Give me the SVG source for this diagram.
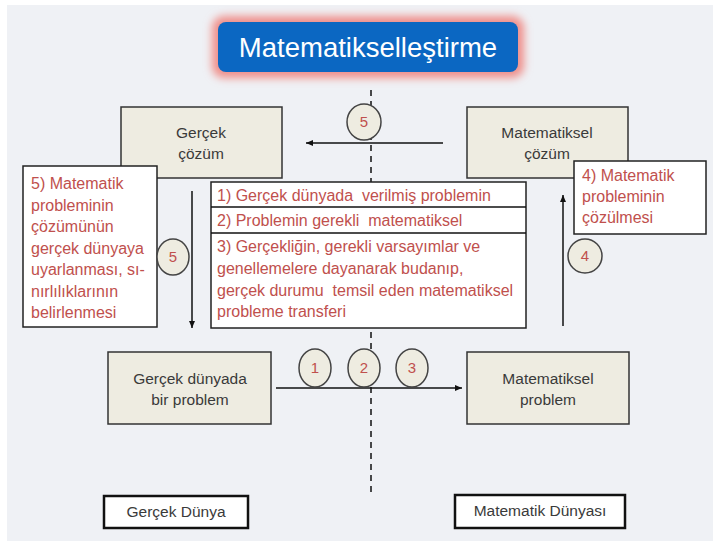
<svg xmlns="http://www.w3.org/2000/svg" width="713" height="541" viewBox="0 0 713 541">
<defs>
<style>
.box{fill:#eeece1;stroke:#333;stroke-width:1.5}
.tbox{fill:#fff;stroke:#222;stroke-width:1.5}
.lbl{fill:#fff;stroke:#111;stroke-width:2.5}
.t{font-family:"Liberation Sans",Arial,sans-serif;font-size:15.5px;fill:#3a3a3a;text-anchor:middle}
.r{font-family:"Liberation Sans",Arial,sans-serif;font-size:16px;fill:#c0504d;white-space:pre}
.circ{fill:#eeece1;stroke:#444;stroke-width:1.5}
.n{font-family:"Liberation Sans",Arial,sans-serif;font-size:15px;fill:#c0504d;text-anchor:middle}
.ln{stroke:#111;stroke-width:1.5;fill:none}
.dash{stroke:#111;stroke-width:1.5;stroke-dasharray:6,5;fill:none}
</style>
<marker id="ah" markerWidth="8" markerHeight="8" refX="7" refY="4" orient="auto" markerUnits="userSpaceOnUse">
<path d="M0,1 L7,4 L0,7 Z" fill="#111"/>
</marker>
<filter id="glow" x="-20%" y="-50%" width="140%" height="200%">
<feGaussianBlur stdDeviation="4"/>
</filter>
</defs>
<rect x="0" y="0" width="713" height="541" fill="#fff"/>
<rect x="7" y="5" width="706" height="536" fill="#eff1f5"/>

<g id="title">
<rect x="212" y="16" width="312" height="62" rx="12" fill="#ef8f8a" filter="url(#glow)"/>
<rect x="218" y="22" width="300" height="50" rx="8" fill="#0b67c2"/>
<text x="368" y="57" font-family="'Liberation Sans',Arial,sans-serif" font-size="27.5" fill="#fff" text-anchor="middle">Matematikselleştirme</text>
</g>

<g id="connectors">
<line class="dash" x1="371" y1="90" x2="371" y2="492"/>
<line class="ln" x1="443" y1="143" x2="306" y2="143" marker-end="url(#ah)"/>
<line class="ln" x1="192" y1="191" x2="192" y2="328" marker-end="url(#ah)"/>
<line class="ln" x1="563" y1="326" x2="563" y2="195" marker-end="url(#ah)"/>
<line class="ln" x1="276" y1="388" x2="462" y2="388" marker-end="url(#ah)"/>
</g>

<g id="n-gercek-cozum">
<rect class="box" x="121" y="107" width="161" height="71"/>
<text class="t" x="201" y="138">Gerçek</text>
<text class="t" x="201" y="159">çözüm</text>
</g>

<g id="n-mat-cozum">
<rect class="box" x="467" y="107" width="161" height="71"/>
<text class="t" x="547" y="138">Matematiksel</text>
<text class="t" x="547" y="159">çözüm</text>
</g>

<g id="n-gercek-problem">
<rect class="box" x="108" y="352" width="163" height="72"/>
<text class="t" x="190" y="384">Gerçek dünyada</text>
<text class="t" x="190" y="405">bir problem</text>
</g>

<g id="n-mat-problem">
<rect class="box" x="467" y="352" width="162" height="72"/>
<text class="t" x="548" y="384">Matematiksel</text>
<text class="t" x="548" y="405">problem</text>
</g>

<g id="c5-top">
<ellipse class="circ" cx="364" cy="122" rx="17" ry="18"/>
<text class="n" x="364" y="127">5</text>
</g>

<g id="n-step5">
<rect class="tbox" x="23" y="166" width="134" height="161"/>
<text class="r" x="31" y="189">5) Matematik</text>
<text class="r" x="31" y="211">probleminin</text>
<text class="r" x="31" y="232">çözümünün</text>
<text class="r" x="31" y="254">gerçek dünyaya</text>
<text class="r" x="31" y="275">uyarlanması, sı-</text>
<text class="r" x="31" y="297">nırlılıklarının</text>
<text class="r" x="31" y="318">belirlenmesi</text>
</g>

<g id="c5-left">
<ellipse class="circ" cx="173" cy="257" rx="16" ry="18"/>
<text class="n" x="173" y="262">5</text>
</g>

<g id="n-steps123">
<rect class="tbox" x="211" y="182" width="315" height="146"/>
<line class="ln" x1="211" y1="207" x2="526" y2="207"/>
<line class="ln" x1="211" y1="233" x2="526" y2="233"/>
<text class="r" x="217" y="201">1) Gerçek dünyada  verilmiş problemin</text>
<text class="r" x="217" y="226">2) Problemin gerekli  matematiksel</text>
<text class="r" x="217" y="252">3) Gerçekliğin, gerekli varsayımlar ve</text>
<text class="r" x="217" y="274">genellemelere dayanarak budanıp,</text>
<text class="r" x="217" y="296">gerçek durumu  temsil eden matematiksel</text>
<text class="r" x="217" y="317">probleme transferi</text>
</g>

<g id="n-step4">
<rect class="tbox" x="574" y="161" width="132" height="73"/>
<text class="r" x="582" y="181" font-size="16.5">4) Matematik</text>
<text class="r" x="582" y="202" font-size="16.5">probleminin</text>
<text class="r" x="582" y="223" font-size="16.5">çözülmesi</text>
</g>

<g id="c4">
<ellipse class="circ" cx="585" cy="256" rx="17" ry="17"/>
<text class="n" x="585" y="261">4</text>
</g>

<g id="c1">
<ellipse class="circ" cx="315" cy="368" rx="16" ry="19"/>
<text class="n" x="315" y="373">1</text>
</g>
<g id="c2">
<ellipse class="circ" cx="364" cy="368" rx="16" ry="19"/>
<text class="n" x="364" y="373">2</text>
</g>
<g id="c3">
<ellipse class="circ" cx="412" cy="368" rx="16" ry="19"/>
<text class="n" x="412" y="373">3</text>
</g>

<g id="n-gercek-dunya">
<rect class="lbl" x="104" y="496" width="144" height="32"/>
<text class="t" x="176" y="517" font-size="13">Gerçek Dünya</text>
</g>

<g id="n-mat-dunya">
<rect class="lbl" x="455" y="495" width="170" height="33"/>
<text class="t" x="540" y="516" font-size="13">Matematik Dünyası</text>
</g>
</svg>
